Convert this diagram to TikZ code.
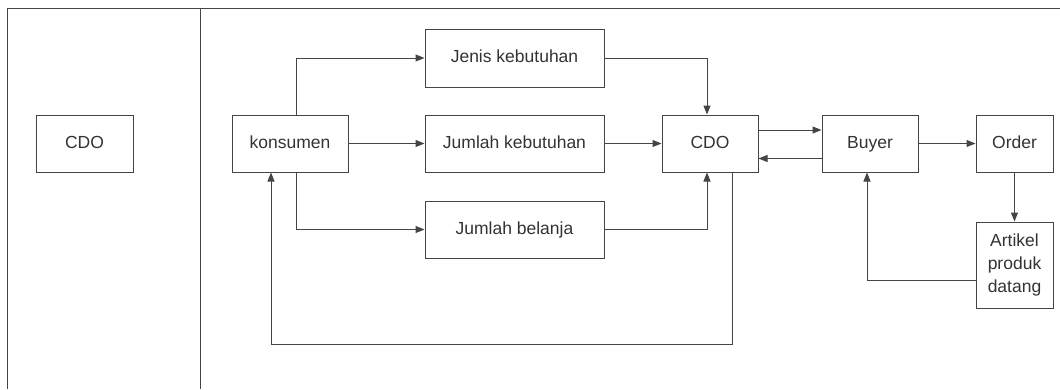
\documentclass[tikz,border=0pt]{standalone}
\usepackage{fontspec}
\setmainfont{Liberation Sans}
\usetikzlibrary{arrows.meta}
\definecolor{ln}{HTML}{454545}
\definecolor{tx}{HTML}{333333}
\begin{document}
\begin{tikzpicture}[x=1pt,y=-1pt,
  box/.style={draw=ln,line width=1pt,text=tx,font=\fontsize{17.5}{23}\selectfont,inner sep=0pt,align=center},
  one/.style={box,text height=12.5pt,text depth=3.5pt},
  conn/.style={draw=ln,line width=1pt,-{Triangle[length=9pt,width=7pt]}},
  frame/.style={draw=ln,line width=1pt}]
\useasboundingbox (0,0) rectangle (1060,389);
% frame lines
\coordinate (tl) at (7.5,8);
\coordinate (tr) at (1060,8);
\coordinate (bl) at (7.5,389);
\coordinate (dt) at (200,8);
\coordinate (db) at (200,389);
\draw[frame] (bl) -- (tl) -- (tr);
\draw[frame] (dt) -- (db);
% boxes
\node[one,minimum width=97pt,minimum height=57pt] (cdo1) at (84.5,143.5) {CDO};
\node[one,minimum width=116pt,minimum height=57pt] (kon) at (290,143.5) {konsumen};
\node[one,minimum width=179pt,minimum height=58pt] (jenis) at (514.5,58) {Jenis kebutuhan};
\node[one,minimum width=179pt,minimum height=57pt] (jkeb) at (514.5,143.5) {Jumlah kebutuhan};
\node[one,minimum width=179pt,minimum height=57pt] (jbel) at (514.5,229.5) {Jumlah belanja};
\node[one,minimum width=96pt,minimum height=57pt] (cdo) at (710,143.5) {CDO};
\node[one,minimum width=96pt,minimum height=57pt] (buyer) at (870,143.5) {Buyer};
\node[one,minimum width=77pt,minimum height=57pt] (order) at (1014.5,143.5) {Order};
\node[box,minimum width=77pt,minimum height=86pt] (art) at (1014.5,265) {Artikel\\produk\\datang};
% connectors
\draw[conn] (kon.north -| 296,0) |- (jenis.west);
\draw[conn] (kon.east) -- (jkeb.west);
\draw[conn] (kon.south -| 296,0) |- (jbel.west);
\draw[conn] (jenis.east) -| (cdo.north -| 707,0);
\draw[conn] (jkeb.east) -- (cdo.west);
\draw[conn] (jbel.east) -| (cdo.south -| 707,0);
\draw[conn] (cdo.east |- 0,130) -- (buyer.west |- 0,130);
\draw[conn] (buyer.west |- 0,158.5) -- (cdo.east |- 0,158.5);
\draw[conn] (buyer.east) -- (order.west);
\draw[conn] (order.south) -- (art.north);
\draw[conn] (art.west |- 0,280) -| (buyer.south -| 867,0);
\coordinate (lpA) at (732,344);
\coordinate (lpB) at (271,344);
\draw[conn] (cdo.south -| 732,0) -- (lpA) -- (lpB) -- (kon.south -| 271,0);
\end{tikzpicture}
\end{document}
